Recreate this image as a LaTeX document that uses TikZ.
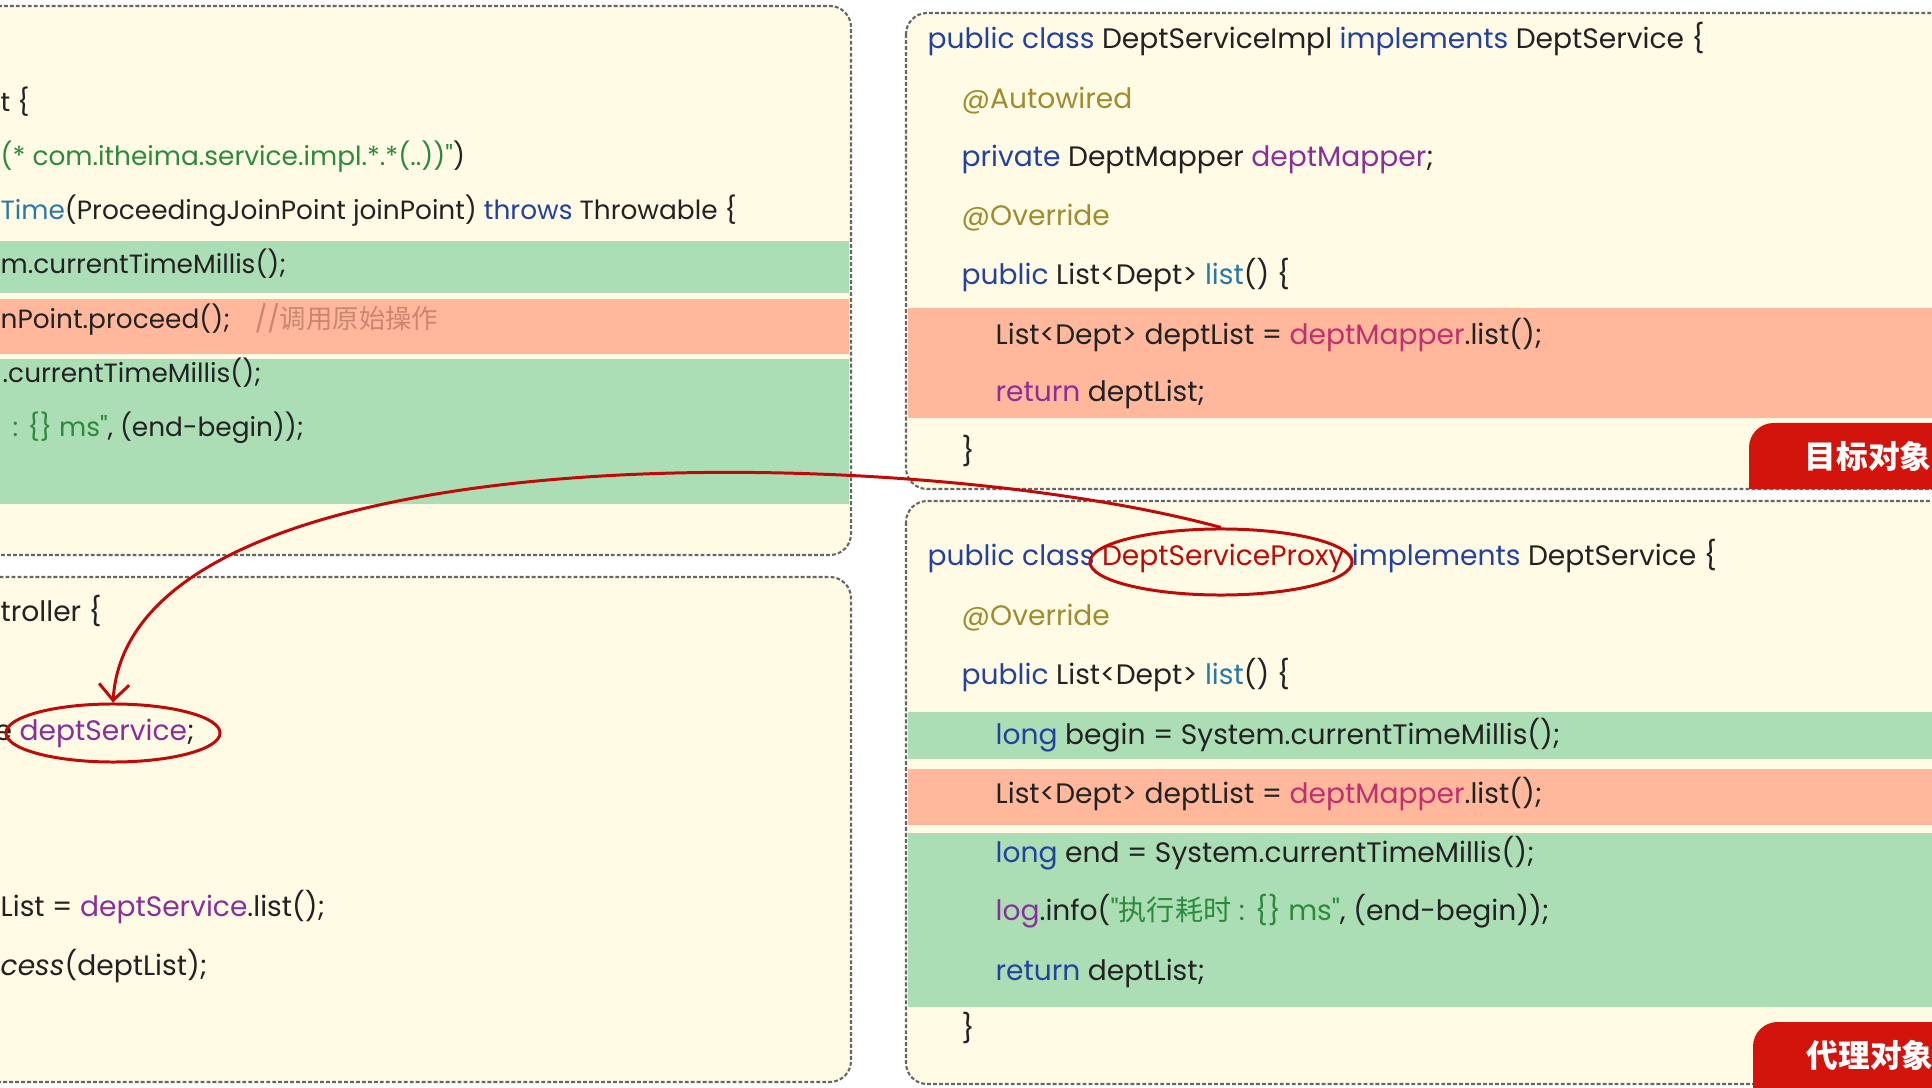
\documentclass[tikz,border=0pt]{standalone}
\usepackage{fontspec}
\setmainfont{Poppins}[Ligatures=TeXOff]
\newfontfamily\cjk{Noto Sans CJK SC}
\usetikzlibrary{shapes.geometric,arrows.meta}

\definecolor{paper}{HTML}{FFFBE5}
\definecolor{okgreen}{HTML}{ACDEB6}
\definecolor{salmon}{HTML}{FFB89C}
\definecolor{kwblue}{HTML}{23419E}
\definecolor{fieldpurple}{HTML}{8B2E9A}
\definecolor{annot}{HTML}{A08C2C}
\definecolor{strgreen}{HTML}{2C8A3C}
\definecolor{methteal}{HTML}{2A78A8}
\definecolor{mapperpink}{HTML}{C02F6E}
\definecolor{commentred}{HTML}{C98670}
\definecolor{tagred}{HTML}{D2140C}
\definecolor{inkred}{HTML}{C00A0A}
\definecolor{codeblack}{HTML}{222222}

\newcommand{\kwd}[1]{\textcolor{kwblue}{#1}}
\newcommand{\fld}[1]{\textcolor{fieldpurple}{#1}}
\newcommand{\anno}[1]{\textcolor{annot}{#1}}
\newcommand{\strg}[1]{\textcolor{strgreen}{#1}}
\newcommand{\mthd}[1]{\textcolor{methteal}{#1}}
\newcommand{\mapr}[1]{\textcolor{mapperpink}{#1}}

\tikzset{
  panel/.style={draw=black!60, fill=paper, line width=0.6pt, dash pattern=on 1.1pt off 0.6pt, rounded corners=6pt},
  code/.style={anchor=base west, inner sep=0pt, text=codeblack, font=\fontsize{8}{9}\selectfont},
  aspcode/.style={code, font=\fontsize{7.5}{8.5}\selectfont},
  ring/.style={draw=inkred, line width=0.85pt, ellipse, inner sep=0pt},
  tagtext/.style={text=white, font=\cjk\bfseries\fontsize{9}{10}\selectfont, inner sep=0pt},
  link/.style={draw=inkred, line width=0.85pt, -{Straight Barb[length=1.6mm,width=3mm]}},
}

\begin{document}
\begin{tikzpicture}[x=0.01cm,y=-0.01cm]
\clip (0,0) rectangle (1932,1088);
\fill[white] (0,0) rectangle (1932,1088);

% panels and coloured bands
\draw[panel] (-60,6) rectangle (851,555);
\draw[panel] (-60,577) rectangle (851,1082);
\draw[panel] (906,13) rectangle (2010,489);
\draw[panel] (906,501) rectangle (2010,1084);
\fill[okgreen] (-60,241) rectangle (849,293);
\fill[salmon] (-60,299) rectangle (849,354);
\fill[okgreen] (-60,359) rectangle (849,504);
\fill[salmon] (908,308) rectangle (2010,418);
\fill[okgreen] (908,712) rectangle (2010,759);
\fill[salmon] (908,769) rectangle (2010,825);
\fill[okgreen] (908,833) rectangle (2010,1007);

% aspect
\node[aspcode] (aspTail) at (0,112) {t \{};
\node[aspcode] (aspPointcut) at (0,166) {\strg{(* com.itheima.service.impl.*.*(..))"})};
\node[aspcode] (aspMethod) at (0,220) {\mthd{Time}(ProceedingJoinPoint joinPoint) \kwd{throws} Throwable \{};
\node[aspcode] (aspBegin) at (0,274) {m.currentTimeMillis();};
\node[aspcode] (aspProceed) at (0,329) {nPoint.proceed();\hspace{7pt}\textcolor{commentred}{//{\cjk 调用原始操作}}};
\node[aspcode] (aspEnd) at (2,383) {.currentTimeMillis();};
\node[aspcode] (aspLog) at (12,437) {\strg{: \{\} ms"}, (end-begin));};

% controller
\node[code] (ctlHead) at (0,622) {troller \{};
\node[code] (ctlField) at (-6,740) {e \fld{deptService};};
\node[code] (ctlCall) at (0,916) {List = \fld{deptService}.list();};
\node[code] (ctlResult) at (0,975) {\textit{cess}(deptList);};

% target object
\node[code] (implHead) at (927,49) {\kwd{public class} DeptServiceImpl \kwd{implements} DeptService \{};
\node[code] (implWired) at (961,109) {\anno{@Autowired}};
\node[code] (implField) at (961,167) {\kwd{private} DeptMapper \fld{deptMapper};};
\node[code] (implOverride) at (961,226) {\anno{@Override}};
\node[code] (implList) at (961,285) {\kwd{public} List<Dept> \mthd{list}() \{};
\node[code] (implQuery) at (995,345) {List<Dept> deptList = \mapr{deptMapper}.list();};
\node[code] (implReturn) at (995,402) {\fld{return} deptList;};
\node[code] (implClose) at (961,462) {\}};
\fill[tagred] (1749,489) [rounded corners=7pt] |- (2000,423) [sharp corners] |- cycle;
\node[tagtext] (targetTag) at (1868,456) {目标对象};

% proxy object
\node[code] (proxyHead) at (927,566) {\kwd{public class} \textcolor{inkred}{DeptServiceProxy} \kwd{implements} DeptService \{};
\node[code] (proxyOverride) at (961,625) {\anno{@Override}};
\node[code] (proxyList) at (961,685) {\kwd{public} List<Dept> \mthd{list}() \{};
\node[code] (proxyBegin) at (995,744) {\kwd{long} begin = System.currentTimeMillis();};
\node[code] (proxyQuery) at (995,803) {List<Dept> deptList = \mapr{deptMapper}.list();};
\node[code] (proxyEnd) at (995,862) {\kwd{long} end = System.currentTimeMillis();};
\node[code] (proxyLog) at (995,920) {\fld{log}.info(\strg{"{\cjk 执行耗时} : \{\} ms"}, (end-begin));};
\node[code] (proxyReturn) at (995,980) {\kwd{return} deptList;};
\node[code] (proxyClose) at (961,1038) {\}};
\fill[tagred] (1753,1100) [rounded corners=7pt] |- (2000,1022) [sharp corners] |- cycle;
\node[tagtext] (proxyTag) at (1870,1055) {代理对象};

% injected proxy
\node[ring, minimum width=2.62cm, minimum height=0.66cm] (proxyRing) at (1221,562) {};
\node[ring, minimum width=2.14cm, minimum height=0.58cm] (svcRing) at (113,733) {};
\draw[link] (proxyRing.north) .. controls (900,440) and (130,430) .. (svcRing.north);
\end{tikzpicture}
\end{document}
